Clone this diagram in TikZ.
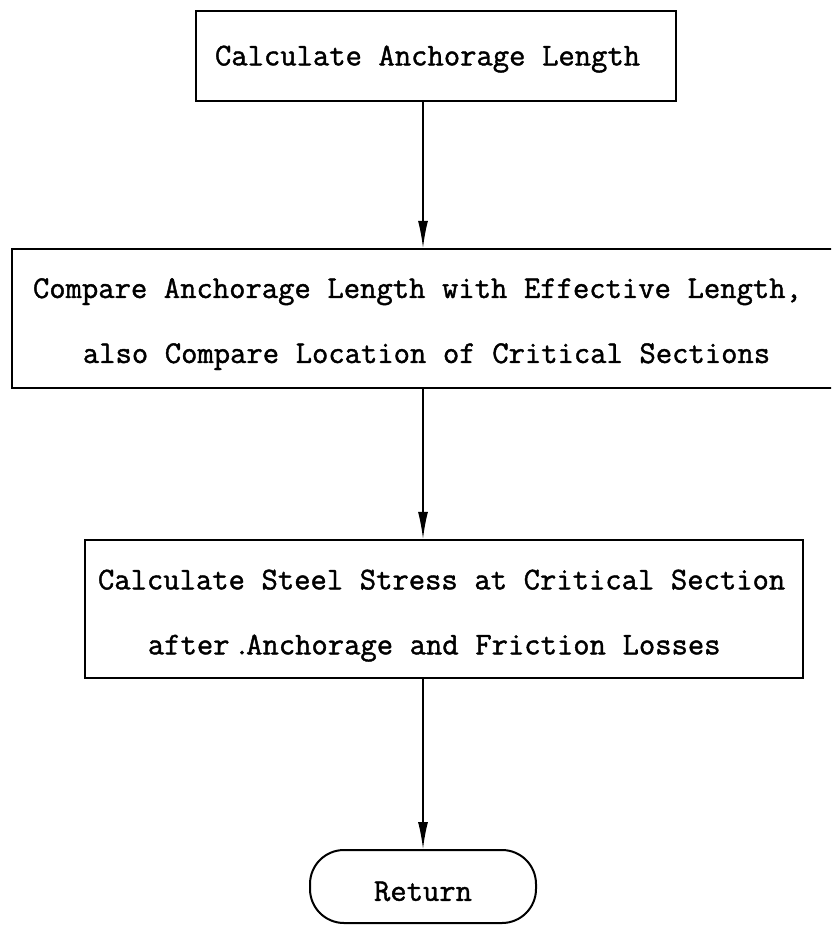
\documentclass[tikz,border=0pt]{standalone}
\usepackage{fontspec}
\newfontfamily\tw[FakeBold=1.3]{Latin Modern Mono}
\newcommand\twfont{\tw\fontsize{31.7}{65}\selectfont}
\newcommand\ts{\spaceskip=16.64pt\relax\xspaceskip=16.64pt\relax}
\usetikzlibrary{arrows.meta}
\tikzset{
  procbox/.style={draw=black, line width=2.2pt, fill=white, align=left,
    inner ysep=0pt, font=\twfont},
  termbox/.style={draw=black, line width=2pt, rounded corners=34pt,
    minimum width=226pt, minimum height=73pt, inner sep=0pt,
    font=\twfont},
  arr/.style={line width=1.5pt, -{Latex[length=27pt,width=10pt]}}
}
\begin{document}
\begin{tikzpicture}[x=1pt,y=-1pt]
\clip (0,0) rectangle (831,925);
\fill[white] (0,0) rectangle (831,925);
\node[procbox, inner xsep=19pt, text width=442pt, minimum height=90pt] (b1) at (436,56)
  {\ts\rule{0pt}{26pt}Calculate Anchorage Length};
\node[procbox, inner xsep=21pt, text width=786pt, minimum height=139pt] (b2) at (426,318.5)
  {\ts\rule{0pt}{31pt}Compare Anchorage Length with Effective Length,\\
   \hspace*{49.9pt}also Compare Location of Critical Sections};
\node[procbox, inner xsep=13pt, text width=692pt, minimum height=138pt] (b3) at (444,609)
  {\ts\rule{0pt}{33pt}Calculate Steel Stress at Critical Section\\
   \hspace*{49.9pt}after \llap{.\hspace{-4pt}}Anchorage and Friction Losses};
\node[termbox] (r) at (423,886.5) {\rule{0pt}{29pt}Return};
\draw[arr] (b1.south -| r.north) -- (b2.north -| r.north);
\draw[arr] (b2.south -| r.north) -- (b3.north -| r.north);
\draw[arr] (b3.south -| r.north) -- (r.north);
\end{tikzpicture}
\end{document}
